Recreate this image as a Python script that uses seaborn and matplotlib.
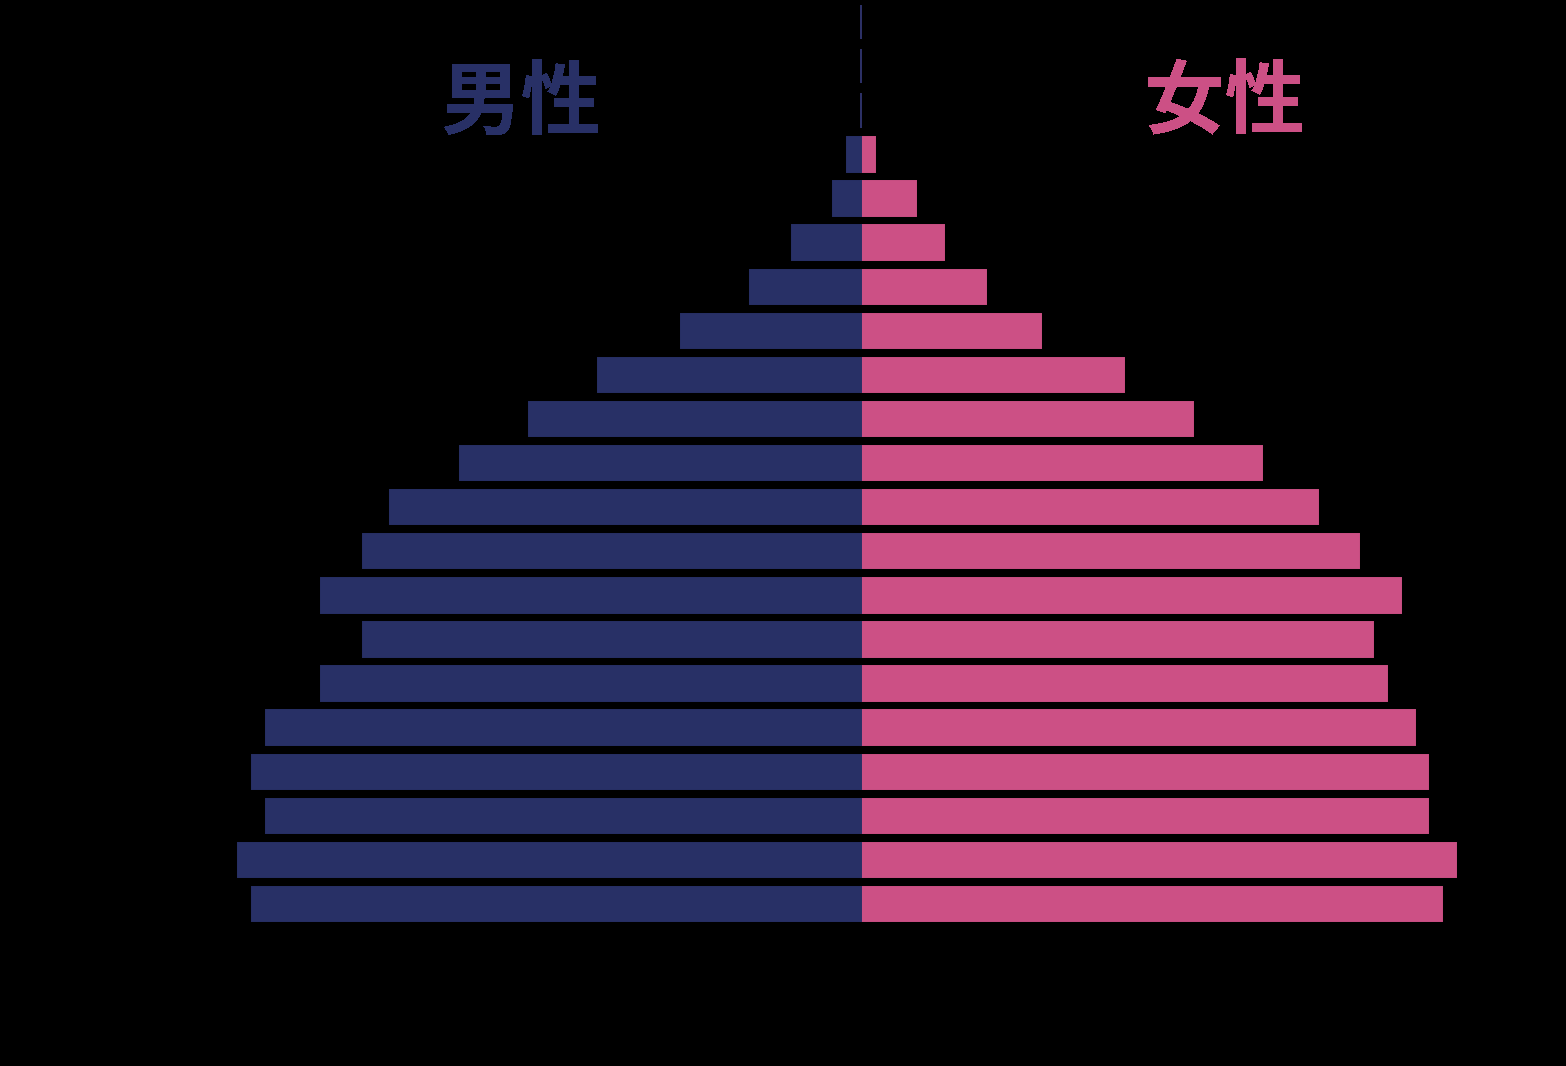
import pandas as pd
import seaborn as sns
import matplotlib.pyplot as plt

# Age groups (bottom to top) and share of population in %
ages = ['0-4', '5-9', '10-14', '15-19', '20-24', '25-29', '30-34', '35-39',
        '40-44', '45-49', '50-54', '55-59', '60-64', '65-69', '70-74',
        '75-79', '80-84', '85-89', '90-94', '95-99', '100+']
male = [4.4, 4.5, 4.3, 4.4, 4.3, 3.9, 3.6, 3.9, 3.6, 3.4, 2.9, 2.4,
        1.9, 1.3, 0.8, 0.5, 0.2, 0.1, 0.0, 0.0, 0.0]
female = [4.2, 4.3, 4.1, 4.1, 4.0, 3.8, 3.7, 3.9, 3.6, 3.3, 2.9, 2.4,
          1.9, 1.3, 0.9, 0.6, 0.4, 0.1, 0.0, 0.0, 0.0]

navy = '#283066'
pink = '#cc5085'

sns.set_style('dark')
plt.rcParams['font.family'] = ['Noto Sans CJK JP', 'DejaVu Sans']
plt.rcParams['text.antialiased'] = False

df = pd.DataFrame({'age': ages, 'pos': range(len(ages)),
                   'male': male, 'female': female})
df['male_neg'] = -df['male']

fig = plt.figure(figsize=(15.66, 10.66), dpi=100, facecolor='black')
ax = fig.add_axes([0, 0, 1, 1])
ax.set_facecolor('black')

# female side first, male on top so the empty rows show a navy line
sns.barplot(data=df, x='female', y='pos', orient='y', native_scale=True,
            width=0.78, color=pink, saturation=1, edgecolor=pink,
            linewidth=1.4, ax=ax)
sns.barplot(data=df, x='male_neg', y='pos', orient='y', native_scale=True,
            width=0.78, color=navy, saturation=1, edgecolor=navy,
            linewidth=1.4, ax=ax)

ax.set_xlim(-6.221, 5.094)
ax.set_ylim(-3.674, 20.503)
ax.axis('off')

fig.text(521 / 1566, 1 - 104 / 1066, '男性', ha='center', va='center',
         fontsize=58, fontweight='bold', color=navy)
fig.text(1225 / 1566, 1 - 104 / 1066, '女性', ha='center', va='center',
         fontsize=58, fontweight='bold', color=pink)

fig.savefig('out.png', dpi=100, facecolor='black')
